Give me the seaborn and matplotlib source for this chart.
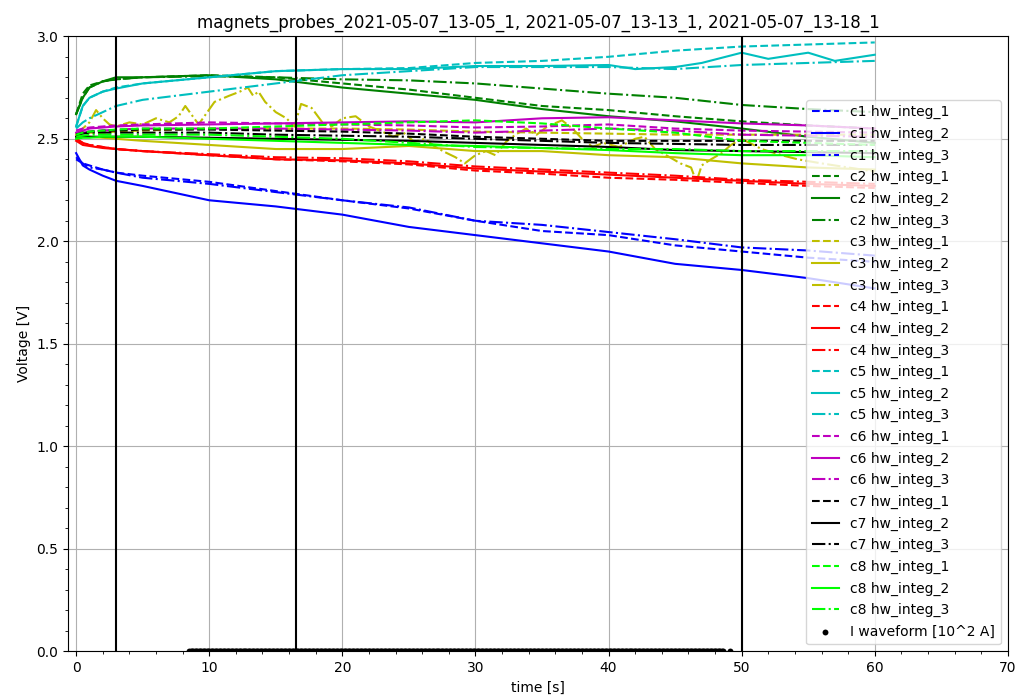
import numpy as np
import pandas as pd
import matplotlib
matplotlib.use("Agg")
import matplotlib.pyplot as plt
import seaborn as sns

# ---------------- data ----------------
T = [0, 0.5, 1, 2, 3, 5, 10, 15, 20, 25, 30, 35, 40, 45, 50, 55, 60]

c1_1 = [2.41, 2.38, 2.37, 2.35, 2.335, 2.32, 2.29, 2.245, 2.20, 2.16, 2.10, 2.05, 2.03, 1.98, 1.95, 1.92, 1.90]
c1_2 = [2.43, 2.37, 2.35, 2.32, 2.295, 2.27, 2.20, 2.17, 2.13, 2.07, 2.03, 1.99, 1.95, 1.89, 1.86, 1.82, 1.77]
c1_3 = [2.40, 2.38, 2.36, 2.35, 2.335, 2.31, 2.28, 2.24, 2.20, 2.165, 2.10, 2.08, 2.045, 2.01, 1.97, 1.955, 1.93]

c2_1 = [2.62, 2.72, 2.76, 2.78, 2.79, 2.80, 2.81, 2.80, 2.77, 2.74, 2.70, 2.66, 2.64, 2.61, 2.585, 2.565, 2.55]
c2_2 = [2.62, 2.70, 2.75, 2.78, 2.80, 2.80, 2.81, 2.79, 2.75, 2.72, 2.69, 2.645, 2.61, 2.585, 2.55, 2.51, 2.48]
c2_3 = [2.62, 2.70, 2.75, 2.78, 2.79, 2.80, 2.805, 2.80, 2.79, 2.785, 2.77, 2.745, 2.72, 2.70, 2.665, 2.645, 2.63]

c3_1 = [2.52, 2.53, 2.53, 2.53, 2.535, 2.54, 2.55, 2.55, 2.55, 2.545, 2.535, 2.53, 2.525, 2.52, 2.52, 2.52, 2.52]
c3_2 = [2.52, 2.51, 2.51, 2.505, 2.50, 2.49, 2.47, 2.45, 2.45, 2.465, 2.44, 2.44, 2.42, 2.41, 2.38, 2.36, 2.35]
T_c3_3 = [0, 0.5, 1, 1.5, 2, 2.5, 3, 4, 5, 6, 7, 7.7, 8.2, 9.2, 10.4, 11.5, 12.3, 12.9, 13.3, 13.7,
          14.2, 15, 15.8, 16.4, 16.9, 17.7, 18.5, 19.2, 20, 21, 22, 23, 23.8, 24.6, 25.4, 26.2, 27,
          27.7, 28.5, 29.2, 30, 30.8, 31.5, 32.3, 33, 33.8, 34.6, 35.4, 36.5, 37.3, 38, 38.8, 39.6,
          40.8, 42, 42.7, 43.5, 44.6, 45.4, 46.2, 46.6, 47, 47.7, 48.5, 49.2, 50, 51.5, 53, 54.2,
          56, 58, 60]
c3_3 = [2.52, 2.55, 2.58, 2.64, 2.60, 2.57, 2.56, 2.58, 2.57, 2.60, 2.58, 2.61, 2.66, 2.57, 2.68,
        2.71, 2.73, 2.75, 2.71, 2.73, 2.68, 2.63, 2.60, 2.56, 2.67, 2.65, 2.58, 2.56, 2.60, 2.61,
        2.56, 2.535, 2.51, 2.53, 2.485, 2.50, 2.46, 2.435, 2.41, 2.38, 2.42, 2.44, 2.42, 2.485,
        2.52, 2.55, 2.52, 2.56, 2.59, 2.55, 2.50, 2.46, 2.48, 2.46, 2.50, 2.51, 2.45, 2.41, 2.38,
        2.36, 2.29, 2.37, 2.40, 2.43, 2.47, 2.50, 2.45, 2.42, 2.40, 2.38, 2.36, 2.34]

c4_1 = [2.50, 2.48, 2.47, 2.46, 2.45, 2.44, 2.42, 2.40, 2.39, 2.375, 2.345, 2.33, 2.31, 2.30, 2.285, 2.27, 2.26]
c4_2 = [2.49, 2.47, 2.465, 2.455, 2.45, 2.44, 2.42, 2.40, 2.395, 2.38, 2.355, 2.34, 2.325, 2.31, 2.295, 2.28, 2.27]
c4_3 = [2.50, 2.48, 2.47, 2.46, 2.45, 2.44, 2.425, 2.41, 2.405, 2.39, 2.365, 2.35, 2.335, 2.32, 2.30, 2.29, 2.28]

c5_1 = [2.56, 2.66, 2.70, 2.73, 2.75, 2.77, 2.80, 2.83, 2.84, 2.845, 2.87, 2.88, 2.90, 2.93, 2.95, 2.96, 2.97]
T_c5_2 = [0, 0.5, 1, 2, 3, 5, 10, 15, 20, 25, 30, 35, 40, 42, 45, 47, 50, 52, 55, 57, 60]
c5_2 = [2.56, 2.66, 2.70, 2.73, 2.745, 2.77, 2.80, 2.83, 2.84, 2.84, 2.855, 2.855, 2.86, 2.84, 2.85,
        2.87, 2.92, 2.89, 2.92, 2.88, 2.91]
c5_3 = [2.55, 2.58, 2.60, 2.63, 2.66, 2.69, 2.73, 2.77, 2.81, 2.83, 2.85, 2.85, 2.85, 2.84, 2.86, 2.87, 2.88]

c6_1 = [2.54, 2.55, 2.555, 2.56, 2.565, 2.57, 2.58, 2.575, 2.57, 2.565, 2.555, 2.56, 2.57, 2.55, 2.54, 2.535, 2.53]
c6_2 = [2.53, 2.54, 2.55, 2.555, 2.56, 2.565, 2.57, 2.575, 2.58, 2.585, 2.58, 2.60, 2.605, 2.59, 2.575, 2.565, 2.55]
c6_3 = [2.52, 2.53, 2.535, 2.54, 2.545, 2.55, 2.55, 2.55, 2.545, 2.54, 2.53, 2.54, 2.55, 2.54, 2.52, 2.515, 2.51]

c7_1 = [2.52, 2.53, 2.535, 2.54, 2.54, 2.545, 2.545, 2.54, 2.535, 2.525, 2.51, 2.50, 2.49, 2.49, 2.49, 2.49, 2.49]
c7_2 = [2.51, 2.51, 2.51, 2.51, 2.51, 2.51, 2.505, 2.50, 2.495, 2.49, 2.48, 2.47, 2.46, 2.445, 2.44, 2.435, 2.43]
c7_3 = [2.52, 2.525, 2.53, 2.53, 2.53, 2.53, 2.53, 2.52, 2.515, 2.51, 2.50, 2.49, 2.48, 2.475, 2.47, 2.47, 2.47]

c8_1 = [2.52, 2.53, 2.535, 2.54, 2.545, 2.55, 2.55, 2.56, 2.57, 2.58, 2.59, 2.575, 2.55, 2.53, 2.49, 2.48, 2.47]
c8_2 = [2.50, 2.505, 2.505, 2.51, 2.51, 2.51, 2.50, 2.49, 2.48, 2.47, 2.465, 2.455, 2.445, 2.43, 2.42, 2.42, 2.41]
c8_3 = [2.51, 2.515, 2.52, 2.52, 2.52, 2.52, 2.52, 2.51, 2.50, 2.48, 2.46, 2.455, 2.45, 2.45, 2.44, 2.44, 2.44]

# current waveform (shown at ~0 in units of 10^2 A), sampled every 0.1 s
i_t_start, i_t_end, i_dt = 8.5, 48.6, 0.1
i_extra_t = [49.1]
i_level = 0.0

# vertical marker lines
vlines = [3, 16.5, 50]

channels = ["c1", "c2", "c3", "c4", "c5", "c6", "c7", "c8"]
integs = ["hw_integ_1", "hw_integ_2", "hw_integ_3"]
series = {
    ("c1", 0): (T, c1_1), ("c1", 1): (T, c1_2), ("c1", 2): (T, c1_3),
    ("c2", 0): (T, c2_1), ("c2", 1): (T, c2_2), ("c2", 2): (T, c2_3),
    ("c3", 0): (T, c3_1), ("c3", 1): (T, c3_2), ("c3", 2): (T_c3_3, c3_3),
    ("c4", 0): (T, c4_1), ("c4", 1): (T, c4_2), ("c4", 2): (T, c4_3),
    ("c5", 0): (T, c5_1), ("c5", 1): (T_c5_2, c5_2), ("c5", 2): (T, c5_3),
    ("c6", 0): (T, c6_1), ("c6", 1): (T, c6_2), ("c6", 2): (T, c6_3),
    ("c7", 0): (T, c7_1), ("c7", 1): (T, c7_2), ("c7", 2): (T, c7_3),
    ("c8", 0): (T, c8_1), ("c8", 1): (T, c8_2), ("c8", 2): (T, c8_3),
}

# ---------------- style ----------------
colors = {"c1": "b", "c2": "g", "c3": "y", "c4": "r", "c5": "c", "c6": "m", "c7": "k", "c8": "lime"}
styles = ["--", "-", "-."]

plt.rcParams["font.family"] = ["DejaVu Sans"]
fig = plt.figure(figsize=(10.17, 6.98), dpi=100)
ax = fig.add_axes([0.067, 0.067, 0.924, 0.881])

for ch in channels:
    for k, integ in enumerate(integs):
        tt, vv = series[(ch, k)]
        df = pd.DataFrame({"t": tt, "v": vv})
        sns.lineplot(data=df, x="t", y="v", ax=ax, color=colors[ch], linestyle=styles[k],
                     linewidth=1.5, label=f"{ch} {integ}", sort=False, estimator=None)

for xv in vlines:
    ax.axvline(xv, color="k", linewidth=1.5)

i_t = list(np.arange(i_t_start, i_t_end + 1e-9, i_dt)) + i_extra_t
df_i = pd.DataFrame({"t": i_t, "v": [i_level] * len(i_t)})
sns.scatterplot(data=df_i, x="t", y="v", ax=ax, color="k", marker="o", s=18, linewidth=0,
                label="I waveform [10^2 A]", zorder=3)

ax.set_xlim(-0.6, 70)
ax.set_ylim(0, 3.0)
ax.set_xticks(np.arange(0, 71, 10))
ax.set_yticks(np.arange(0, 3.01, 0.5))
ax.minorticks_on()
ax.grid(True, which="major", color="#b0b0b0", linewidth=0.8)
ax.set_axisbelow(True)
ax.set_xlabel("time [s]")
ax.set_ylabel("Voltage [V]")
ax.set_title("magnets_probes_2021-05-07_13-05_1, 2021-05-07_13-13_1, 2021-05-07_13-18_1")
ax.legend(loc="lower right", fontsize=10, labelspacing=0.54)

fig.savefig("out.png", dpi=100)
